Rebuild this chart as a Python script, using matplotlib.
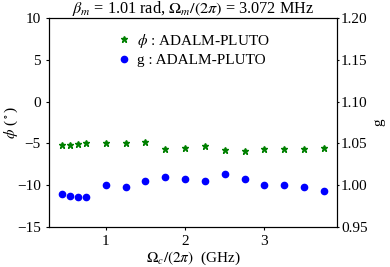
import numpy as np
import matplotlib
matplotlib.use("Agg")
import matplotlib.pyplot as plt

# =============================================================================
# DATOS
# =============================================================================

freq_ghz = [0.45, 0.55, 0.65, 0.75, 1.0, 1.25, 1.5, 1.75, 2.0, 2.25, 2.5, 2.75, 3.0, 3.25, 3.5, 3.75]
phi_deg = [-5.2, -5.2, -5.1, -4.95, -4.95, -4.95, -4.8, -5.65, -5.5, -5.3, -5.75, -5.95, -5.65, -5.65, -5.65, -5.6]
g_vals = [0.9895, 0.9875, 0.9855, 0.9855, 1.0, 0.998, 1.0055, 1.0095, 1.0075, 1.0055, 1.0135, 1.0075, 1.0, 1.0, 0.998, 0.993]

TITLE = r"$\beta_m$ = 1.01 rad, $\Omega_m/(2\pi)$ = 3.072 MHz"

# =============================================================================
# FIGURA
# =============================================================================

plt.rcParams["font.family"] = "Liberation Serif"
plt.rcParams["mathtext.fontset"] = "stix"
plt.rcParams["font.size"] = 11
plt.rcParams["xtick.major.size"] = 2.5
plt.rcParams["ytick.major.size"] = 2.5

fig = plt.figure(figsize=(3.9, 2.67), dpi=100)
ax = fig.add_axes([0.126, 0.150, 0.738, 0.783])
ax2 = ax.twinx()

h1, = ax.plot(freq_ghz, phi_deg, "*", color="green", markersize=5,
              label=r"$\phi$ : ADALM-PLUTO")
h2, = ax2.plot(freq_ghz, g_vals, "o", color="blue", markersize=4.5,
               label="g : ADALM-PLUTO")

ax.set_ylim(-15, 10)
ax.set_yticks([-15, -10, -5, 0, 5, 10])
ax2.set_ylim(0.95, 1.20)
ax2.set_yticks([0.95, 1.00, 1.05, 1.10, 1.15, 1.20])
ax2.set_yticklabels(["0.95", "1.00", "1.05", "1.10", "1.15", "1.20"])
ax.set_xticks([1, 2, 3])
ax2.tick_params(axis="y", length=1.5, pad=1.5)

ax.set_xlabel(r"$\Omega_c/(2\pi)$  (GHz)", labelpad=1)
ax.set_ylabel(r"$\phi$ ($^\circ$)")
ax.yaxis.set_label_coords(-0.1, 0.5)
ax2.set_ylabel("g", labelpad=3)
ax.set_title(TITLE, pad=1, fontsize=11.7)

ax.legend(handles=[h1, h2], loc="upper center", frameon=False, handlelength=1.0,
          handletextpad=0.4, borderaxespad=0.5, labelspacing=0.25)

fig.savefig("out.png", dpi=100)
